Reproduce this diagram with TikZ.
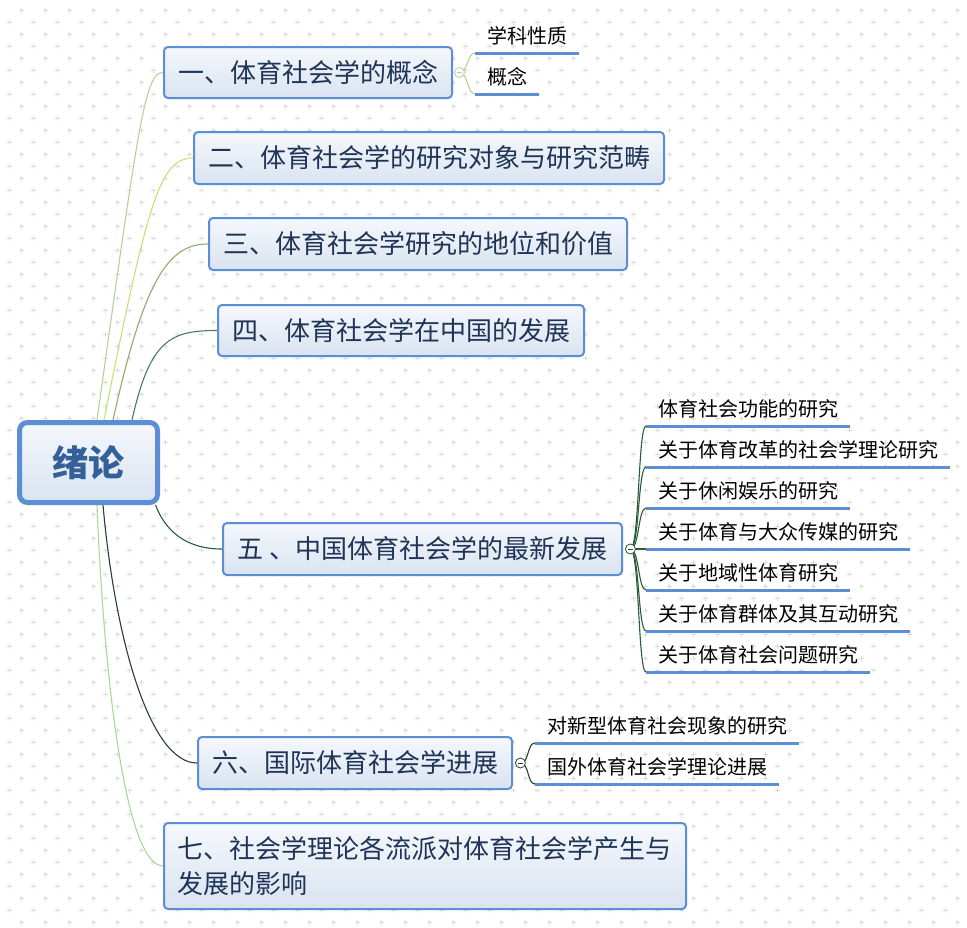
\documentclass[tikz,border=0pt]{standalone}
\usepackage{fontspec}
\setmainfont{Noto Sans CJK SC}
\usetikzlibrary{positioning, backgrounds}
\definecolor{boxBlue}{HTML}{5B8ED5}
\definecolor{boxTop}{HTML}{F5F8FC}
\definecolor{boxBot}{HTML}{D9E3F0}
\definecolor{topicText}{HTML}{1F3457}
\definecolor{rootText}{HTML}{34609A}
\definecolor{gridGray}{HTML}{DCDCDC}
\definecolor{brA}{HTML}{B0D598}
\definecolor{brB}{HTML}{C8E07C}
\definecolor{brC}{HTML}{8EAE6C}
\definecolor{brD}{HTML}{4C7C55}
\definecolor{brE}{HTML}{2B5A3B}
\definecolor{brF}{HTML}{2E3B35}
\definecolor{brG}{HTML}{ABD892}

\tikzset{
  topicbase/.style={draw=boxBlue, line width=2pt, rounded corners=4pt,
    top color=boxTop, bottom color=boxBot, text=topicText, inner sep=0pt,
    font=\fontsize{26}{35}\selectfont},
  topic/.style={topicbase, text height=22.9pt, text depth=3.1pt},
  rootbox/.style={topicbase, line width=5pt, rounded corners=8pt, text=rootText,
    font=\fontsize{36}{40}\selectfont\bfseries, text height=31.7pt, text depth=4.3pt},
  leaf/.style={anchor=south west, inner xsep=12pt, inner ysep=0pt,
    font=\fontsize{20}{24}\selectfont, text height=17.6pt, text depth=9.4pt},
  uline/.style={boxBlue, line width=3pt},
  toggle/.style={circle, draw=#1, fill=white, minimum size=10pt, inner sep=0pt,
    line width=0.8pt, path picture={\draw[#1, line width=0.8pt]
      ([xshift=-2.5pt]path picture bounding box.center) --
      ([xshift=2.5pt]path picture bounding box.center);}},
  branch/.style={draw=#1, line width=1.1pt},
  gridplus/.style={gridGray, line width=1pt}
}

\begin{document}
\begin{tikzpicture}[x=1pt, y=-1pt]
  \useasboundingbox (0,0) rectangle (967,927);
  % background with plus marks
  \begin{scope}[on background layer]
    \fill[white] (0,0) rectangle (967,927);
    \foreach \i in {0,...,39} \foreach \j in {0,...,38} {
      \draw[gridplus] (21+24*\i,10+24*\j) +(-2.5,0) -- +(2.5,0) +(0,-2.5) -- +(0,2.5)
        (9+24*\i,22+24*\j) +(-2.5,0) -- +(2.5,0) +(0,-2.5) -- +(0,2.5);
    }
  \end{scope}

  \node[rootbox, minimum width=138pt, minimum height=80pt] (root) at (88.5,462.5) {绪论};

  \node[topic, minimum width=288pt, minimum height=51pt] (t1) at (308,72.5) {一、体育社会学的概念};
  \node[topic, minimum width=470pt, minimum height=52pt] (t2) at (429,158) {二、体育社会学的研究对象与研究范畴};
  \node[topic, minimum width=418pt, minimum height=52pt] (t3) at (418,244) {三、体育社会学研究的地位和价值};
  \node[topic, minimum width=366pt, minimum height=51pt] (t4) at (401,330.5) {四、体育社会学在中国的发展};
  \node[topic, minimum width=399pt, minimum height=52pt] (t5) at (422.5,549) {五 、中国体育社会学的最新发展};
  \node[topic, minimum width=314pt, minimum height=52pt] (t6) at (355,763) {六、国际体育社会学进展};
  \node[topicbase, minimum width=522pt, minimum height=86pt, text width=496pt, align=left] (t7) at (425,866)
    {七、社会学理论各流派对体育社会学产生与\\发展的影响};

  \node[toggle=brA, right=1pt of t1] (c1) {};
  \node[toggle=brE, right=2pt of t5] (c5) {};
  \node[toggle=brF, right=2pt of t6] (c6) {};

  \node[leaf] (s11) at (475,53) {学科性质};
  \node[leaf] (s12) at (475,94) {概念};

  \node[leaf] (s51) at (646,426) {体育社会功能的研究};
  \node[leaf] (s52) at (646,467) {关于体育改革的社会学理论研究};
  \node[leaf] (s53) at (646,508) {关于休闲娱乐的研究};
  \node[leaf] (s54) at (646,549) {关于体育与大众传媒的研究};
  \node[leaf] (s55) at (646,590) {关于地域性体育研究};
  \node[leaf] (s56) at (646,631) {关于体育群体及其互动研究};
  \node[leaf] (s57) at (646,672) {关于体育社会问题研究};

  \node[leaf] (s61) at (535,743) {对新型体育社会现象的研究};
  \node[leaf] (s62) at (535,784) {国外体育社会学理论进展};

  \foreach \s in {s11,s12,s51,s52,s53,s54,s55,s56,s57,s61,s62}
    \draw[uline] (\s.south west) -- (\s.south east);

  % connectors
  \begin{scope}[on background layer]
    \draw[branch=brA] ([xshift=8.5pt]root.north) .. controls (139,120) and (145,72.5) .. (t1.west);
    \draw[branch=brB] ([xshift=15.5pt]root.north) .. controls (148,200) and (160,158) .. (t2.west);
    \draw[branch=brC] ([xshift=24.5pt]root.north) .. controls (145,275) and (170,244) .. (t3.west);
    \draw[branch=brD] ([xshift=43.5pt]root.north) .. controls (150,340) and (170,330.5) .. (t4.west);
    \draw[branch=brE] ([xshift=-4.5pt]root.south east) .. controls (165,530) and (185,549) .. (t5.west);
    \draw[branch=brF] ([xshift=14.5pt]root.south) .. controls (115,640) and (150,763) .. (t6.west);
    \draw[branch=brG] ([xshift=8.5pt]root.south) .. controls (105,700) and (128,866) .. (t7.west);

    \foreach \s in {s11,s12}
      \draw[branch=brA] (c1.center) .. controls +(9,0) and +(-8,0) .. (\s.south west);
    \foreach \s in {s51,s52,s53,s54,s55,s56,s57}
      \draw[branch=brE] (c5.center) .. controls +(9,0) and +(-8,0) .. (\s.south west);
    \foreach \s in {s61,s62}
      \draw[branch=brF] (c6.center) .. controls +(9,0) and +(-8,0) .. (\s.south west);
  \end{scope}
\end{tikzpicture}
\end{document}
